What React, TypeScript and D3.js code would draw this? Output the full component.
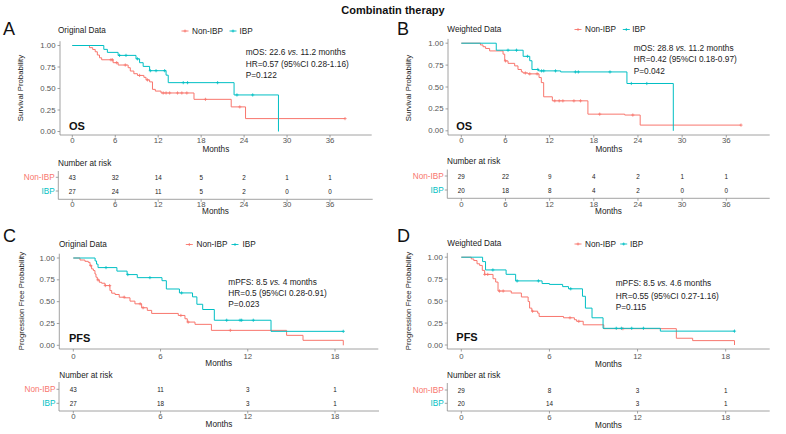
import React from 'react';
import * as d3 from 'd3';

type Step = [number, number];

const RED = '#F8766D';
const TEAL = '#00BFC4';
const FONT = '"Liberation Sans", Arial, Helvetica, sans-serif';
const AXIS = '#8a8a8a';
const TICKTXT = '#555';

const groups = ['Non-IBP', 'IBP'];
const yTicks = [0, 0.25, 0.5, 0.75, 1];
const osTicks = [0, 6, 12, 18, 24, 30, 36];
const pfsTicks = [0, 6, 12, 18];

// ---------- Panel A : OS, original data ----------
const aNonIbpSteps: Step[] = [[0, 1], [2.4, 0.975], [2.85, 0.954], [3.2, 0.927], [3.5, 0.889], [3.8, 0.857], [4.1, 0.834], [5.7, 0.8], [6.4, 0.773], [7.8, 0.742], [8.1, 0.703], [8.6, 0.672], [9.1, 0.652], [10.0, 0.63], [10.3, 0.6], [10.8, 0.577], [11.2, 0.49], [11.6, 0.47], [12.4, 0.448], [17.0, 0.374], [22.2, 0.286], [24.2, 0.15]];
const aNonIbpEnd = 38.1;
const aNonIbpCensor = [5.4, 5.6, 6.2, 7.4, 9.4, 10.5, 12.7, 13.1, 13.6, 14.7, 15.3, 16.0, 18.6, 23.4, 38.1];
const aIbpSteps: Step[] = [[0, 1], [4.4, 0.955], [4.9, 0.92], [6.4, 0.885], [8.9, 0.845], [9.4, 0.8], [9.9, 0.757], [10.8, 0.707], [13.1, 0.655], [13.4, 0.568], [22.6, 0.425], [28.8, 0]];
const aIbpEnd = 28.8;
const aIbpCensor = [6.6, 7.5, 9.1, 10.9, 11.7, 12.9, 15.5, 16.1, 20.3, 23.0, 25.2];
const aRiskNonIbp = [43, 32, 14, 5, 2, 1, 1];
const aRiskIbp = [27, 24, 11, 5, 2, 0, 0];
const aStats = ['mOS: 22.6 ', 'vs.', ' 11.2 months', 'HR=0.57 (95%CI 0.28-1.16)', 'P=0.122'];

// ---------- Panel B : OS, weighted data ----------
const bNonIbpSteps: Step[] = [[0, 1], [2.6, 0.98], [2.95, 0.96], [3.3, 0.94], [3.85, 0.912], [5.67, 0.875], [5.9, 0.798], [6.35, 0.77], [7.25, 0.741], [7.7, 0.7], [8.16, 0.673], [8.38, 0.66], [9.06, 0.65], [10.56, 0.608], [10.87, 0.55], [11.19, 0.388], [12.37, 0.342], [17.2, 0.19], [22.2, 0.18], [24.3, 0.065]];
const bNonIbpEnd = 38.0;
const bNonIbpCensor = [6.0, 8.7, 9.3, 10.3, 12.7, 13.3, 13.8, 15.3, 16.2, 18.8, 23.3, 38.0];
const bIbpSteps: Step[] = [[0, 1], [4.75, 0.92], [8.4, 0.85], [9.3, 0.8], [9.6, 0.7], [10.5, 0.684], [13.5, 0.672], [22.5, 0.54], [28.8, 0]];
const bIbpEnd = 28.8;
const bIbpCensor = [6.35, 7.5, 9.0, 10.4, 10.9, 11.2, 12.8, 15.5, 15.9, 20.2, 23.1, 25.2];
const bRiskNonIbp = [29, 22, 9, 4, 2, 1, 1];
const bRiskIbp = [20, 18, 8, 4, 2, 0, 0];
const bStats = ['mOS: 28.8 ', 'vs.', ' 11.2 months', 'HR=0.42 (95%CI 0.18-0.97)', 'P=0.042'];

// ---------- Panel C : PFS, original data ----------
const cNonIbpSteps: Step[] = [[0, 1], [0.46, 0.977], [0.8, 0.962], [1.03, 0.95], [1.15, 0.913], [1.26, 0.875], [1.38, 0.856], [1.49, 0.817], [1.56, 0.78], [1.65, 0.749], [1.79, 0.722], [1.95, 0.711], [2.18, 0.684], [2.52, 0.627], [2.64, 0.597], [2.87, 0.582], [3.16, 0.551], [3.55, 0.544], [3.9, 0.506], [4.24, 0.475], [4.7, 0.43], [5.09, 0.4], [5.39, 0.365], [7.22, 0.342], [7.68, 0.304], [7.84, 0.266], [8.37, 0.24], [9.5, 0.171], [14.67, 0.114], [15.8, 0.057], [18.57, 0]];
const cNonIbpEnd = 18.57;
const cNonIbpCensor = [1.2, 1.7, 2.2, 2.5, 3.5, 4.6, 4.8, 7.4, 7.9, 10.8];
const cIbpSteps: Step[] = [[0, 1], [1.5, 0.966], [1.6, 0.93], [1.7, 0.89], [3.0, 0.85], [3.7, 0.81], [4.4, 0.775], [6.1, 0.74], [6.4, 0.645], [7.3, 0.6], [8.2, 0.555], [8.5, 0.47], [8.9, 0.41], [9.7, 0.287], [13.6, 0.16]];
const cIbpEnd = 18.57;
const cIbpCensor = [2.25, 3.75, 5.27, 7.45, 10.55, 11.47, 11.58, 12.38, 18.57];
const cRiskNonIbp = [43, 11, 3, 1];
const cRiskIbp = [27, 18, 3, 1];
const cStats = ['mPFS: 8.5 ', 'vs.', ' 4 months', 'HR=0.5 (95%CI 0.28-0.91)', 'P=0.023'];

// ---------- Panel D : PFS, weighted data ----------
const dNonIbpSteps: Step[] = [[0, 1], [0.68, 0.98], [0.85, 0.962], [1.07, 0.925], [1.25, 0.906], [1.43, 0.85], [1.59, 0.804], [2.16, 0.755], [2.34, 0.717], [2.5, 0.615], [3.4, 0.592], [4.09, 0.547], [4.55, 0.495], [4.65, 0.42], [4.8, 0.385], [5.2, 0.363], [5.3, 0.325], [6.96, 0.31], [7.7, 0.288], [7.85, 0.27], [8.3, 0.23], [9.7, 0.186], [14.64, 0.077], [15.75, 0.05], [18.6, 0]];
const dNonIbpEnd = 18.6;
const dNonIbpCensor = [1.6, 1.8, 2.6, 2.85, 4.85, 7.4, 8.0, 11.0];
const dIbpSteps: Step[] = [[0, 1], [1.45, 0.95], [1.65, 0.855], [3.05, 0.805], [3.7, 0.73], [5.5, 0.7], [6.0, 0.69], [6.9, 0.665], [7.3, 0.64], [8.25, 0.555], [8.45, 0.42], [8.9, 0.31], [9.65, 0.19], [13.55, 0.158]];
const dIbpEnd = 18.6;
const dIbpCensor = [2.15, 3.8, 5.25, 7.45, 10.55, 10.9, 11.6, 12.4, 18.6];
const dRiskNonIbp = [29, 8, 3, 1];
const dRiskIbp = [20, 14, 3, 1];
const dStats = ['mPFS: 8.5 ', 'vs.', ' 4.6 months', 'HR=0.55 (95%CI 0.27-1.16)', 'P=0.115'];

interface Curve { steps: Step[]; end: number; censor: number[]; color: string }
interface PanelData {
  curves: Curve[];
  ticks: number[];
  risk: number[][];
  stats: string[];
  endpoint: string;
  yTitle: string;
  subtitle: string;
  letter: string;
}

interface Layout {
  letterX: number; letterY: number;
  subX: number; headY: number; k1: number; t1: number; k2: number; t2: number;
  axX: number; x0: number; xMax: number; xEnd: number;
  yTop: number; yBot: number; axisY: number; tickLabY: number; xTitleY: number;
  statX: number; statY: number[];
  labX: number; labY: number;
  yTitleX: number; yTitleY: number;
  tTitleX: number; tTitleY: number; row1: number; row2: number; tAxX: number; tTop: number;
  tLineY: number; tTickY: number; tMonthsY: number; tEnd: number;
}

const layouts: Layout[] = [
  { letterX: 3, letterY: 35, subX: 58, headY: 30.5, k1: 185, t1: 192, k2: 233, t2: 239.5,
    axX: 60, x0: 72.3, xMax: 330, xEnd: 371.7, yTop: 45.5, yBot: 131.5, axisY: 135, tickLabY: 140, xTitleY: 149.3,
    statX: 245.7, statY: [52, 63.5, 74.5], labX: 69, labY: 130, yTitleX: 20, yTitleY: 88,
    tTitleX: 58, tTitleY: 163, row1: 177.3, row2: 191, tAxX: 58.3, tTop: 171, tLineY: 199.3, tTickY: 204.3, tMonthsY: 211.7, tEnd: 372.7 },
  { letterX: 397, letterY: 35, subX: 447.3, headY: 29, k1: 578, t1: 585, k2: 626.3, t2: 632.3,
    axX: 448, x0: 461.3, xMax: 726.3, xEnd: 769.7, yTop: 43.2, yBot: 130.8, axisY: 135, tickLabY: 140, xTitleY: 149.3,
    statX: 633.7, statY: [47.7, 59.3, 70.7], labX: 456.3, labY: 130, yTitleX: 408, yTitleY: 88,
    tTitleX: 447, tTitleY: 161.7, row1: 176, row2: 190, tAxX: 447.3, tTop: 169.5, tLineY: 198.3, tTickY: 204.3, tMonthsY: 211.7, tEnd: 769.7 },
  { letterX: 3, letterY: 241.7, subX: 59, headY: 244, k1: 189.3, t1: 196.5, k2: 235, t2: 242.5,
    axX: 59.3, x0: 73.3, xMax: 335, xEnd: 378.3, yTop: 258, yBot: 345.3, axisY: 349, tickLabY: 356, xTitleY: 363.3,
    statX: 228.3, statY: [281.7, 292.9, 304.3], labX: 69, labY: 341.7, yTitleX: 21.5, yTitleY: 301,
    tTitleX: 59.3, tTitleY: 375, row1: 389.3, row2: 403.3, tAxX: 59, tTop: 382, tLineY: 411, tTickY: 416.7, tMonthsY: 424, tEnd: 379 },
  { letterX: 397, letterY: 241.7, subX: 447.3, headY: 243.5, k1: 578, t1: 585, k2: 623.7, t2: 630,
    axX: 447.3, x0: 461.3, xMax: 725.7, xEnd: 769.7, yTop: 257.2, yBot: 345, axisY: 349, tickLabY: 356.5, xTitleY: 364,
    statX: 615.7, statY: [283.3, 295.5, 307.3], labX: 456.3, labY: 341, yTitleX: 408, yTitleY: 301,
    tTitleX: 447, tTitleY: 375, row1: 390, row2: 403.3, tAxX: 447.3, tTop: 383, tLineY: 411, tTickY: 417.3, tMonthsY: 425, tEnd: 769.7 },
];

const panels: PanelData[] = [
  { curves: [{ steps: aNonIbpSteps, end: aNonIbpEnd, censor: aNonIbpCensor, color: RED }, { steps: aIbpSteps, end: aIbpEnd, censor: aIbpCensor, color: TEAL }],
    ticks: osTicks, risk: [aRiskNonIbp, aRiskIbp], stats: aStats, endpoint: 'OS', yTitle: 'Survival Probability', subtitle: 'Original Data', letter: 'A' },
  { curves: [{ steps: bNonIbpSteps, end: bNonIbpEnd, censor: bNonIbpCensor, color: RED }, { steps: bIbpSteps, end: bIbpEnd, censor: bIbpCensor, color: TEAL }],
    ticks: osTicks, risk: [bRiskNonIbp, bRiskIbp], stats: bStats, endpoint: 'OS', yTitle: 'Survival Probability', subtitle: 'Weighted Data', letter: 'B' },
  { curves: [{ steps: cNonIbpSteps, end: cNonIbpEnd, censor: cNonIbpCensor, color: RED }, { steps: cIbpSteps, end: cIbpEnd, censor: cIbpCensor, color: TEAL }],
    ticks: pfsTicks, risk: [cRiskNonIbp, cRiskIbp], stats: cStats, endpoint: 'PFS', yTitle: 'Progression Free Probability', subtitle: 'Original Data', letter: 'C' },
  { curves: [{ steps: dNonIbpSteps, end: dNonIbpEnd, censor: dNonIbpCensor, color: RED }, { steps: dIbpSteps, end: dIbpEnd, censor: dIbpCensor, color: TEAL }],
    ticks: pfsTicks, risk: [dRiskNonIbp, dRiskIbp], stats: dStats, endpoint: 'PFS', yTitle: 'Progression Free Probability', subtitle: 'Weighted Data', letter: 'D' },
];

function survAt(steps: Step[], t: number): number {
  let s = 1;
  for (const [tt, ss] of steps) if (tt <= t) s = ss;
  return s;
}

function Plus({ cx, cy, color, r = 1.6 }: { cx: number; cy: number; color: string; r?: number }) {
  return (
    <g stroke={color} strokeWidth={0.8}>
      <line x1={cx - r} x2={cx + r} y1={cy} y2={cy} />
      <line x1={cx} x2={cx} y1={cy - r} y2={cy + r} />
    </g>
  );
}

function Panel({ P, L }: { P: PanelData; L: Layout }) {
  const tMax = P.ticks[P.ticks.length - 1];
  const x = d3.scaleLinear().domain([0, tMax]).range([L.x0, L.xMax]);
  const y = d3.scaleLinear().domain([0, 1]).range([L.yBot, L.yTop]);
  const line = d3.line<Step>().x((d) => x(d[0])).y((d) => y(d[1])).curve(d3.curveStepAfter);
  const plotTop = L.yTop - 4.3;
  const fmt = d3.format('.2f');
  const midX = (L.axX + L.xEnd) / 2;
  const tMid = (L.tAxX + L.tEnd) / 2;
  const colors = [RED, TEAL];
  const rows = [L.row1, L.row2];

  return (
    <g fontFamily={FONT}>
      <text x={L.letterX} y={L.letterY} fontSize={18} fill="#111">{P.letter}</text>
      <text x={L.subX} y={L.headY} fontSize={8.2} fill="#222" dominantBaseline="central">{P.subtitle}</text>
      {/* legend */}
      {[L.k1, L.k2].map((k, i) => (
        <g key={i}>
          <line x1={k - 3.5} x2={k + 3.5} y1={L.headY + 0.5} y2={L.headY + 0.5} stroke={colors[i]} strokeWidth={0.9} />
          <Plus cx={k} cy={L.headY + 0.5} color={colors[i]} r={1.5} />
          <text x={i === 0 ? L.t1 : L.t2} y={L.headY + 0.5} fontSize={8.2} fill="#222" dominantBaseline="central">{groups[i]}</text>
        </g>
      ))}
      {/* axes */}
      <line x1={L.axX} x2={L.axX} y1={plotTop} y2={L.axisY} stroke={AXIS} strokeWidth={0.8} />
      <line x1={L.axX} x2={L.xEnd} y1={L.axisY} y2={L.axisY} stroke={AXIS} strokeWidth={0.8} />
      {yTicks.map((v) => (
        <g key={v}>
          <line x1={L.axX - 2.5} x2={L.axX} y1={y(v)} y2={y(v)} stroke={AXIS} strokeWidth={0.8} />
          <text x={L.axX - 4.5} y={y(v)} fontSize={7.8} fill={TICKTXT} textAnchor="end" dominantBaseline="central">{fmt(v)}</text>
        </g>
      ))}
      {P.ticks.map((v) => (
        <g key={v}>
          <line x1={x(v)} x2={x(v)} y1={L.axisY} y2={L.axisY + 2.5} stroke={AXIS} strokeWidth={0.8} />
          <text x={x(v)} y={L.tickLabY} fontSize={7.8} fill={TICKTXT} textAnchor="middle" dominantBaseline="central">{v}</text>
        </g>
      ))}
      <text x={midX} y={L.xTitleY} fontSize={8.2} fill="#222" textAnchor="middle" dominantBaseline="central">Months</text>
      <text transform={`translate(${L.yTitleX},${L.yTitleY}) rotate(-90)`} fontSize={7.8} fill="#222" textAnchor="middle" dominantBaseline="central">{P.yTitle}</text>
      {/* curves */}
      {P.curves.map((c, i) => {
        const last = c.steps[c.steps.length - 1];
        const pts: Step[] = c.end > last[0] ? [...c.steps, [c.end, last[1]]] : c.steps;
        return (
          <g key={i}>
            <path d={line(pts) || ''} fill="none" stroke={c.color} strokeWidth={1} />
            {c.censor.map((t, j) => (
              <Plus key={j} cx={x(t)} cy={y(survAt(c.steps, t))} color={c.color} />
            ))}
          </g>
        );
      })}
      {/* stats */}
      <text x={L.statX} y={L.statY[0]} fontSize={8.3} fill="#222" dominantBaseline="central">
        {P.stats[0]}<tspan fontStyle="italic">{P.stats[1]}</tspan>{P.stats[2]}
      </text>
      <text x={L.statX} y={L.statY[1]} fontSize={8.3} fill="#222" dominantBaseline="central">{P.stats[3]}</text>
      <text x={L.statX} y={L.statY[2]} fontSize={8.3} fill="#222" dominantBaseline="central">{P.stats[4]}</text>
      <text x={L.labX} y={L.labY} fontSize={11} fontWeight="bold" fill="#111">{P.endpoint}</text>
      {/* risk table */}
      <text x={L.tTitleX} y={L.tTitleY} fontSize={8.2} fill="#222" dominantBaseline="central">Number at risk</text>
      <line x1={L.tAxX} x2={L.tAxX} y1={L.tTop} y2={L.tLineY} stroke={AXIS} strokeWidth={0.8} />
      <line x1={L.tAxX} x2={L.tEnd} y1={L.tLineY} y2={L.tLineY} stroke={AXIS} strokeWidth={0.8} />
      {rows.map((ry, i) => (
        <g key={i}>
          <line x1={L.tAxX - 2.5} x2={L.tAxX} y1={ry} y2={ry} stroke={AXIS} strokeWidth={0.8} />
          <text x={L.tAxX - 3.5} y={ry} fontSize={8.2} fill={colors[i]} textAnchor="end" dominantBaseline="central">{groups[i]}</text>
          {P.risk[i].map((n, j) => (
            <text key={j} x={x(P.ticks[j])} y={ry} fontSize={6.3} fill="#222" textAnchor="middle" dominantBaseline="central">{n}</text>
          ))}
        </g>
      ))}
      {P.ticks.map((v) => (
        <g key={v}>
          <line x1={x(v)} x2={x(v)} y1={L.tLineY} y2={L.tLineY + 2.5} stroke={AXIS} strokeWidth={0.8} />
          <text x={x(v)} y={L.tTickY} fontSize={7.8} fill={TICKTXT} textAnchor="middle" dominantBaseline="central">{v}</text>
        </g>
      ))}
      <text x={tMid} y={L.tMonthsY} fontSize={8.2} fill="#222" textAnchor="middle" dominantBaseline="central">Months</text>
    </g>
  );
}

export default function App() {
  return (
    <svg width={786} height={434} style={{ position: 'absolute', left: 0, top: 0, background: '#fff' }}>
      <rect width={786} height={434} fill="#fff" />
      <text x={393} y={9.5} fontFamily={FONT} fontSize={11} fontWeight="bold" textAnchor="middle" dominantBaseline="central" fill="#111">Combinatin therapy</text>
      {panels.map((P, i) => <Panel key={i} P={P} L={layouts[i]} />)}
    </svg>
  );
}
